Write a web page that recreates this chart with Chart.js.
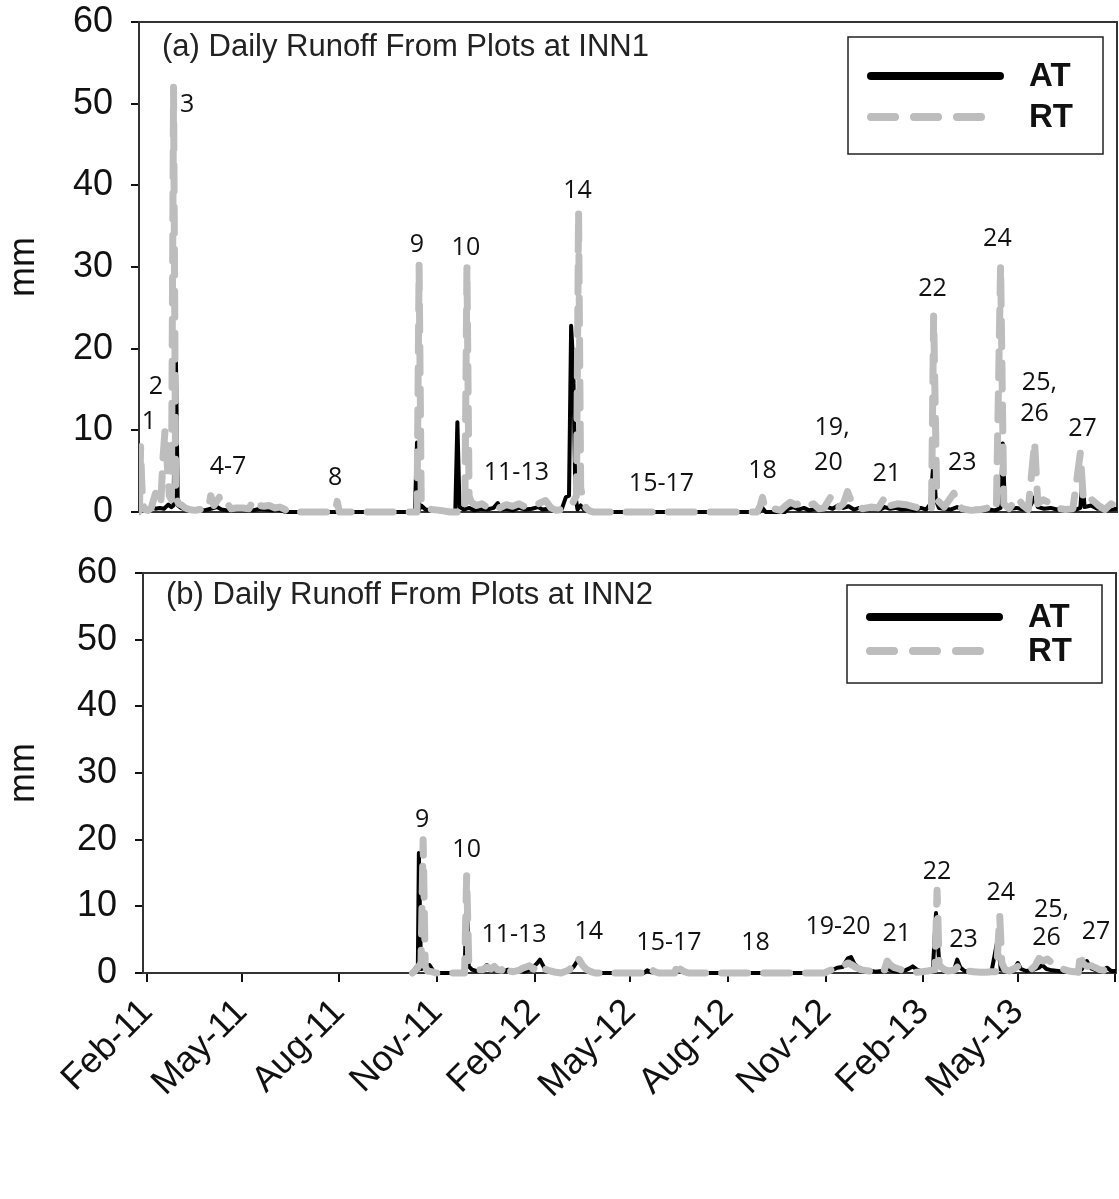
<!DOCTYPE html>
<html lang="en">
<head>
  <meta charset="UTF-8" />
  <title>Daily Runoff From Plots at INN1 and INN2</title>
  <script src="https://cdn.jsdelivr.net/npm/chart.js"></script>
  <style>
    body { margin: 0; background: #fff; }
    .panel { position: absolute; left: 0; }
  </style>
</head>
<body>

  <!-- (a) INN1 -->
  <div class="panel" style="top:0"><canvas id="inn1Chart" width="1119" height="545"></canvas></div>
  <!-- (b) INN2 -->
  <div class="panel" style="top:545px"><canvas id="inn2Chart" width="1119" height="654"></canvas></div>

  <script>
    // x values are days counted from 1 Feb 2011
    const startDate = '2011-02-01';
    const tickDates = ['2011-02-01', '2011-05-01', '2011-08-01', '2011-11-01', '2012-02-01', '2012-05-01',
                       '2012-08-01', '2012-11-01', '2013-02-01', '2013-05-01', '2013-08-01'];
    const tickLabels = ['Feb-11', 'May-11', 'Aug-11', 'Nov-11', 'Feb-12', 'May-12',
                        'Aug-12', 'Nov-12', 'Feb-13', 'May-13', ''];

    // INN1 daily runoff (mm)
    const inn1AtDays = [-8, -6, -3, 0, 4, 8, 12, 16, 20, 23, 25, 27, 29, 32, 36, 42, 48, 54, 60, 66, 70, 76, 82, 88, 94,
      100, 106, 112, 118, 124, 130, 252, 254, 256, 258, 262, 268, 276, 284, 290, 292, 294, 298, 303, 308, 314, 320,
      326, 330, 333, 338, 344, 350, 356, 362, 368, 372, 378, 384, 390, 394, 397, 399, 401, 403, 405, 408, 411, 416,
      422, 576, 579, 582, 600, 603, 608, 613, 618, 623, 628, 634, 640, 645, 650, 655, 660, 665, 670, 676, 682, 688,
      694, 699, 704, 710, 716, 722, 728, 733, 737, 740, 742, 745, 750, 756, 762, 768, 774, 780, 786, 792, 798, 803,
      805, 807, 812, 818, 824, 830, 835, 838, 844, 850, 856, 862, 868, 874, 878, 880, 882, 888, 894, 900, 906, 913];
    const inn1AtValues = [0.2, 0.5, 0.3, 0.3, 0.6, 0.4, 0.5, 0.4, 0.9, 0.6, 0.8, 21, 0.8, 0.5, 0.3, 0.2, 0.4, 0.2, 0.4,
      0.6, 0.3, 0.2, 0.4, 0.3, 0.4, 0.2, 0.4, 0.3, 0.2, 0.3, 0, 0, 8.5, 0.3, 0.8, 0.3, 0.2, 0.1, 0, 0, 11, 0.6, 0.3,
      0.5, 0.2, 0.4, 0.3, 0.5, 1.1, 0.3, 0.4, 0.2, 0.5, 0.3, 0.4, 0.6, 0.3, 0.4, 0.2, 0.3, 1.8, 2.0, 22.8, 18, 2, 0.3,
      0.8, 0.3, 0.2, 0, 0, 0.5, 0, 0, 0.4, 0.6, 0.3, 0.5, 0.2, 0.4, 0.3, 0.6, 0.4, 0.8, 0.5, 0.7, 0.3, 0.5, 0.3, 0.5,
      0.2, 0.6, 0.4, 0.5, 0.3, 0.4, 0.2, 0.5, 0.3, 1.0, 6.5, 1.5, 0.5, 0.4, 0.3, 0.6, 0.3, 0.2, 0.4, 0.2, 0.3, 0.2,
      0.5, 8.4, 0.8, 0.4, 0.5, 0.3, 0.5, 1.8, 0.6, 0.4, 0.5, 0.3, 0.4, 0.5, 0.3, 0.5, 4, 0.6, 0.8, 0.4, 0.5, 0.3, 0.4];

    const inn1RtDays = [-8, -7, -6, -5, -4, -2, 1, 4, 8, 11, 13, 15, 17, 19, 21, 23, 25, 27, 28, 30, 33, 36, 40, 45,
      50, 55, 58, 60, 63, 68, 71, 76, 79, 84, 90, 96, 99, 102, 106, 110, 115, 120, 125, 130, 132, 177, 179, 181, 254,
      256, 258, 262, 268, 276, 285, 299, 301, 303, 305, 310, 315, 320, 326, 332, 338, 344, 350, 356, 362, 368, 375,
      380, 385, 390, 395, 400, 404, 406, 408, 410, 413, 417, 420, 574, 577, 579, 581, 584, 590, 596, 601, 605, 610,
      615, 620, 627, 632, 637, 643, 646, 651, 655, 659, 663, 667, 673, 681, 688, 695, 700, 706, 714, 720, 728, 734,
      738, 740, 743, 750, 759, 763, 767, 775, 784, 794, 799, 803, 806, 811, 819, 824, 829, 835, 838, 843, 848, 855,
      864, 871, 878, 881, 889, 895, 901, 907, 913];
    const inn1RtValues = [0, 0.5, 8, 4, 1, 0.3, 0.2, 0.5, 2.3, 2.0, 1.0, 6.5, 10, 6, 2, 1.5, 52, 3, 1.5, 1.0, 0.8, 0.5,
      0.3, 0.2, 0.3, 0.6, 0.5, 2.0, 0.8, 1.8, 0.8, 1.0, 0.4, 0.5, 0.5, 0.4, 1.2, 0.5, 0.8, 0.7, 0.8, 0.5, 0.6, 0.3, 0,
      0, 1.3, 0, 0, 30.2, 1.2, 0.6, 0.3, 0.2, 0, 0, 30, 2, 1.2, 0.8, 1.0, 0.6, 0.9, 0.5, 0.9, 0.7, 1.0, 0.6, 0.8, 1.0,
      1.4, 0.5, 0.2, 0.3, 0.5, 1.0, 2, 36.8, 3, 1.5, 0.5, 0.1, 0, 0, 0.8, 1.8, 0.7, 0.3, 0.4, 0.2, 0.8, 1.2, 0.9, 1.1,
      0.7, 1.0, 0.4, 0.5, 1.8, 0.6, 0.6, 1.0, 2.5, 1.2, 1.0, 0.4, 0.6, 0.5, 2.0, 0.8, 1.0, 0.9, 0.7, 0.4, 0.3, 0.5, 24,
      1.5, 0.6, 2.3, 0.8, 0.4, 0.2, 0.3, 0.6, 0.3, 30.2, 1, 0.4, 1.8, 0.8, 0.3, 8.6, 1.0, 1.5, 1.2, 0.5, 0.3, 0.4, 7.2,
      1.2, 1.5, 0.8, 0.3, 1.0, 0.6];

    // INN2 daily runoff (mm)
    const inn2AtDays = [250, 253, 255, 256, 258, 262, 266, 270, 275, 299, 301, 303, 306, 310, 315, 320, 325, 330, 335,
      340, 345, 350, 355, 362, 367, 370, 374, 378, 382, 386, 398, 402, 406, 409, 413, 418, 422, 468, 471, 475, 480, 497,
      500, 503, 507, 640, 645, 650, 655, 660, 663, 666, 670, 675, 680, 686, 692, 697, 702, 708, 714, 718, 721, 725, 730,
      736, 740, 743, 746, 750, 755, 760, 763, 766, 770, 778, 785, 795, 801, 804, 810, 816, 820, 823, 828, 835, 840, 843,
      847, 852, 858, 864, 869, 875, 880, 885, 889, 894, 899, 904, 908, 913];
    const inn2AtValues = [0, 0.8, 0.4, 18, 0.6, 0.8, 1.2, 0.2, 0, 0, 11, 1.0, 0.5, 0.3, 0.4, 1.2, 0.4, 0.5, 0.2, 0.5,
      0.3, 0.5, 0.2, 0.6, 1.4, 2.0, 0.8, 0.3, 0.2, 0, 0.3, 1.0, 2.0, 1.6, 0.8, 0.3, 0, 0, 0.4, 0.1, 0, 0, 0.6, 0.3, 0,
      0, 0.4, 0.8, 0.9, 2.2, 2.4, 1.4, 0.8, 0.5, 0.4, 0.2, 0.3, 0.6, 0.3, 0.2, 0.4, 0.7, 1.0, 0.5, 0.2, 0.3, 0.5, 9,
      1.5, 0.4, 0.3, 0.5, 2.0, 0.8, 0.3, 0.2, 0.1, 0, 5, 0.5, 0.3, 0.4, 1.5, 0.6, 0.3, 0.5, 0.8, 1.2, 0.6, 0.4, 0.3,
      0.2, 0.2, 0.3, 0.5, 1.8, 0.7, 0.4, 0.3, 0.8, 0.3, 0.3];

    const inn2RtDays = [250, 252, 255, 258, 260, 262, 264, 268, 272, 299, 301, 303, 306, 309, 312, 316, 320, 324, 327,
      330, 334, 337, 340, 345, 350, 355, 360, 364, 368, 372, 376, 380, 385, 390, 398, 401, 404, 407, 410, 414, 418, 422,
      466, 468, 471, 474, 478, 482, 497, 500, 502, 506, 510, 638, 640, 645, 650, 655, 660, 664, 668, 672, 676, 680, 685,
      690, 694, 697, 700, 704, 708, 712, 716, 720, 725, 730, 735, 742, 744, 746, 750, 754, 760, 765, 768, 772, 778, 785,
      790, 795, 800, 803, 805, 808, 812, 816, 820, 824, 828, 832, 836, 840, 844, 848, 852, 856, 860, 864, 868, 873, 877,
      879, 881, 885, 889, 893, 897, 901, 905, 909, 913];
    const inn2RtValues = [0, 0.3, 0.8, 1.5, 20, 1.0, 0.3, 0.2, 0, 0, 14.6, 1.5, 1.0, 0.8, 0.5, 0.5, 0.9, 0.6, 1.0, 0.5,
      0.4, 1.3, 0.3, 0.2, 0.4, 0.8, 1.1, 0.6, 1.4, 0.8, 0.5, 0.3, 0.1, 0, 0.5, 1.5, 2.3, 2.0, 1.2, 0.5, 0.2, 0, 0, 0.5,
      0.9, 0.6, 0.2, 0, 0, 1.7, 0.6, 0.2, 0, 0, 0.2, 0.5, 0.6, 1.0, 1.5, 1.2, 0.8, 0.5, 0.4, 0.3, 0.2, 0.1, 0.3, 1.8,
      1.2, 0.8, 0.6, 0.4, 0.3, 0.2, 0.1, 0.2, 0.3, 0.5, 12.4, 1.2, 0.6, 0.3, 0.4, 1.2, 0.5, 0.3, 0.2, 0.1, 0.1, 0.2,
      0.2, 8.6, 1.5, 0.5, 0.3, 0.6, 1.0, 0.5, 0.3, 0.5, 1.0, 2.2, 1.8, 2.1, 1.5, 1.0, 0.8, 0.5, 0.3, 0.2, 0.1, 3.0,
      1.5, 1.0, 1.1, 0.8, 0.5, 0.4, 0.6, 0.8, 0.6];

    // runoff event numbers, placed at (day, mm)
    const inn1EventText = ['1', '2', '3', '4-7', '8', '9', '10', '11-13', '14', '15-17', '18', '19,', '20', '21',
                           '22', '23', '24', '25,', '26', '27'];
    const inn1EventDays = [1.9, 8.5, 37.7, 76.3, 177, 254, 300, 347.5, 405, 484, 579, 644.5, 641, 696,
                           739, 767, 800, 839.5, 835, 880];
    const inn1EventMm = [11.0, 15.3, 49.8, 5.5, 4.2, 32.7, 32.3, 4.8, 39.3, 3.5, 5.0, 10.3, 6.0, 4.65,
                         27.3, 6.0, 33.4, 15.8, 12.0, 10.2];

    const inn2EventText = ['9', '10', '11-13', '14', '15-17', '18', '19-20', '21', '22', '23', '24', '25,', '26', '27'];
    const inn2EventDays = [259, 301, 345.6, 416, 491.5, 573, 650.7, 706, 744, 769, 804, 851.7, 847, 893.6];
    const inn2EventMm = [22.9, 18.4, 5.7, 6.1, 4.5, 4.5, 6.9, 5.8, 15.1, 4.9, 12.0, 9.4, 5.2, 6.1];

    const dayOf = d => Math.round((Date.parse(d) - Date.parse(startDate)) / 86400000);
    const tickDays = tickDates.map(dayOf);
    const toPoints = (days, values) => days.map((d, i) => ({ x: d, y: values[i] }));

    const AT_COLOR = '#000000';
    const RT_COLOR = '#bdbdbd';
    const TICK_FONT = { family: 'Liberation Sans, Arial, sans-serif', size: 36 };

    // frame, panel title, event numbers and legend box
    const decorPlugin = {
      id: 'decor',
      beforeDatasetsDraw(chart, args, opts) {
        const { ctx, chartArea: a } = chart;
        ctx.save();
        ctx.strokeStyle = '#333';
        ctx.lineWidth = 2;
        ctx.strokeRect(a.left, a.top, a.right - a.left, a.bottom - a.top);
        ctx.fillStyle = '#222';
        ctx.font = '31px "Liberation Sans", Arial, sans-serif';
        ctx.textBaseline = 'middle';
        ctx.fillText(opts.title, a.left + 23, a.top + opts.titleDy);
        ctx.restore();
      },
      afterDatasetsDraw(chart, args, opts) {
        const { ctx, chartArea: a, scales } = chart;
        ctx.save();
        ctx.fillStyle = '#111';
        ctx.font = '25px "Open Sans", sans-serif';
        ctx.textAlign = 'center';
        ctx.textBaseline = 'middle';
        opts.eventText.forEach((t, i) => {
          ctx.fillText(t, scales.x.getPixelForValue(opts.eventDays[i]), scales.y.getPixelForValue(opts.eventMm[i]));
        });

        // legend
        const bx = a.right - 269, by = a.top + opts.legendTop, bw = 255, bh = opts.legendHeight;
        ctx.fillStyle = '#fff';
        ctx.fillRect(bx, by, bw, bh);
        ctx.strokeStyle = '#222';
        ctx.lineWidth = 1.5;
        ctx.strokeRect(bx, by, bw, bh);
        ctx.lineCap = 'round';
        ctx.lineWidth = 8;
        const rows = [{ dy: opts.rowAt, color: AT_COLOR, dash: [], text: 'AT' },
                      { dy: opts.rowRt, color: RT_COLOR, dash: [24, 19], text: 'RT' }];
        rows.forEach(r => {
          ctx.strokeStyle = r.color;
          ctx.setLineDash(r.dash);
          ctx.beginPath();
          ctx.moveTo(bx + 23, by + r.dy);
          ctx.lineTo(bx + 152, by + r.dy);
          ctx.stroke();
          ctx.setLineDash([]);
          ctx.fillStyle = '#111';
          ctx.font = 'bold 33px "Liberation Sans", Arial, sans-serif';
          ctx.textAlign = 'left';
          ctx.fillText(r.text, bx + 181, by + r.dy + 1);
        });
        ctx.restore();
      }
    };

    function makePanel(canvasId, cfg) {
      return new Chart(document.getElementById(canvasId), {
        type: 'line',
        data: {
          datasets: [
            {
              label: 'AT',
              data: toPoints(cfg.atDays, cfg.atValues),
              borderColor: AT_COLOR,
              borderWidth: 4,
              borderJoinStyle: 'round',
              order: 1
            },
            {
              label: 'RT',
              data: toPoints(cfg.rtDays, cfg.rtValues),
              borderColor: RT_COLOR,
              borderWidth: 7,
              borderDash: [26, 16],
              borderCapStyle: 'round',
              borderJoinStyle: 'round',
              order: 0
            }
          ]
        },
        options: {
          responsive: false,
          animation: false,
          clip: { left: 0, right: 0, top: 6, bottom: 6 },
          elements: { point: { radius: 0 }, line: { tension: 0 } },
          layout: { padding: { top: cfg.padTop, right: cfg.padRight, left: 0, bottom: 0 } },
          scales: {
            x: {
              type: 'linear',
              min: cfg.xMin,
              max: 912.5,
              afterFit: s => {
                s.height = cfg.xHeight;
                s.paddingLeft = 0;
                s.paddingRight = 0;
              },
              afterBuildTicks: axis => { axis.ticks = tickDays.map(v => ({ value: v })); },
              border: { display: true, color: '#111', width: 2 },
              grid: { display: cfg.showX, drawOnChartArea: false, tickLength: 9, color: '#111', lineWidth: 2 },
              ticks: {
                display: cfg.showX,
                autoSkip: false,
                minRotation: 45,
                maxRotation: 45,
                padding: 9,
                color: '#111',
                font: TICK_FONT,
                callback: (v, i) => tickLabels[i]
              }
            },
            y: {
              min: 0,
              max: 60,
              afterFit: s => {
                s.width = cfg.yWidth;
                s.paddingTop = 0;
                s.paddingBottom = 0;
              },
              border: { color: '#111', width: 2 },
              grid: { drawOnChartArea: false, tickLength: 8, color: '#111', lineWidth: 2 },
              ticks: { stepSize: 10, padding: 18, color: '#111', font: TICK_FONT },
              title: {
                display: true,
                text: 'mm',
                color: '#111',
                font: { family: 'Liberation Sans, Arial, sans-serif', size: 36 },
                padding: { top: 2, bottom: 0 }
              }
            }
          },
          plugins: {
            legend: { display: false },
            tooltip: { enabled: false },
            decor: cfg.decor
          }
        },
        plugins: [decorPlugin]
      });
    }

    makePanel('inn1Chart', {
      atDays: inn1AtDays, atValues: inn1AtValues, rtDays: inn1RtDays, rtValues: inn1RtValues,
      xMin: -7.5, xHeight: 33, yWidth: 139, padTop: 22, padRight: 2, showX: false,
      decor: {
        title: '(a) Daily Runoff From Plots at INN1', titleDy: 25,
        eventText: inn1EventText, eventDays: inn1EventDays, eventMm: inn1EventMm,
        legendTop: 15, legendHeight: 117, rowAt: 39, rowRt: 80
      }
    });

    makePanel('inn2Chart', {
      atDays: inn2AtDays, atValues: inn2AtValues, rtDays: inn2RtDays, rtValues: inn2RtValues,
      xMin: -3.8, xHeight: 226, yWidth: 143, padTop: 28, padRight: 3, showX: true,
      decor: {
        title: '(b) Daily Runoff From Plots at INN2', titleDy: 22,
        eventText: inn2EventText, eventDays: inn2EventDays, eventMm: inn2EventMm,
        legendTop: 12, legendHeight: 98, rowAt: 32, rowRt: 66
      }
    });
  </script>
</body>
</html>
